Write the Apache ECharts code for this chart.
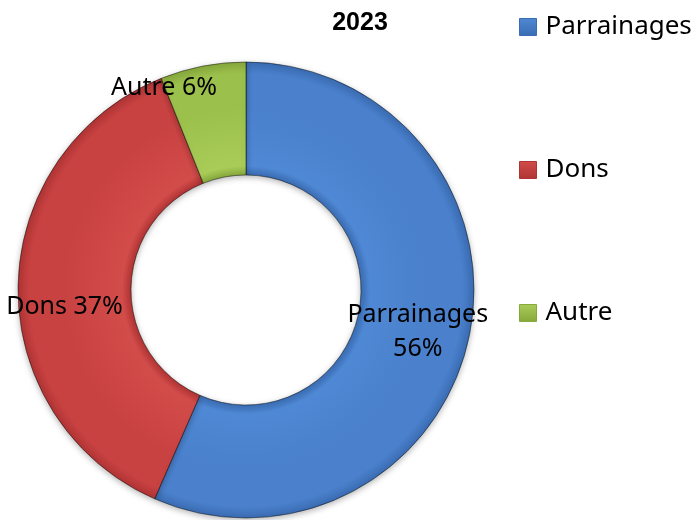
<!DOCTYPE html>
<html>
<head>
<meta charset="utf-8">
<script src="https://cdn.jsdelivr.net/npm/echarts@6/dist/echarts.min.js"></script>
<style>
  html, body { margin: 0; padding: 0; background: #fff; }
  #chart { width: 698px; height: 520px; }
</style>
</head>
<body>
<div id="chart"></div>
<script>
const categories = ['Parrainages', 'Dons', 'Autre']
const values = [56, 37, 6]
const colors = [
  ['#3a6cb2', '#4f88d4', '#4a80cc'],
  ['#b03434', '#d24c4a', '#c94242'],
  ['#86a83c', '#a9cc58', '#9cc04c'],
]

const cx = 246
const cy = 290
const outerR = 228
const innerR = 115

// bevel look: dark edges, lighter band near inner rim
const ringFill = (c) => ({
  type: 'radial', x: cx, y: cy, r: outerR, global: true,
  colorStops: [
    { offset: 0, color: c[0] },
    { offset: innerR / outerR, color: c[0] },
    { offset: innerR / outerR + 0.04, color: c[1] },
    { offset: 0.8, color: c[2] },
    { offset: 0.95, color: c[2] },
    { offset: 1, color: c[0] },
  ],
})

const iconFill = (c) => ({
  type: 'linear', x: 0, y: 0, x2: 0, y2: 1,
  colorStops: [{ offset: 0, color: c[1] }, { offset: 1, color: c[0] }],
})

const labelShift = [[1, 6], [-7, 20], [-49, -31]]

const myChart = echarts.init(document.getElementById('chart'))
myChart.setOption({
  title: {
    text: '2023',
    left: 355,
    top: 6,
    textAlign: 'center',
    textStyle: {
      fontFamily: '"Liberation Sans Narrow", "Liberation Sans", sans-serif',
      fontSize: 25,
      fontWeight: 'bold',
      color: '#000',
    },
  },
  legend: {
    orient: 'vertical',
    left: 514,
    top: 9,
    icon: 'rect',
    itemWidth: 17,
    itemHeight: 17,
    itemGap: 117,
    textStyle: {
      fontFamily: '"Noto Sans", sans-serif',
      fontSize: 26,
      color: '#000',
      padding: [0, 0, 0, 4],
    },
    data: categories.map((name, i) => ({
      name: name,
      itemStyle: { color: iconFill(colors[i]), borderColor: colors[i][0], borderWidth: 1 },
    })),
  },
  series: [{
    type: 'pie',
    center: [cx, cy],
    radius: [innerR, outerR],
    startAngle: 90,
    clockwise: true,
    avoidLabelOverlap: false,
    emphasis: { scale: false },
    itemStyle: {
      borderColor: 'rgba(0,0,0,0.25)',
      borderWidth: 1,
      shadowBlur: 6,
      shadowColor: 'rgba(0,0,0,0.3)',
      shadowOffsetY: 2,
    },
    label: {
      show: true,
      position: 'inside',
      fontFamily: '"Noto Sans", sans-serif',
      fontSize: 25,
      lineHeight: 34,
      color: '#000',
      formatter: (p) => p.dataIndex === 0 ? p.name + '\n' + p.value + '%' : p.name + ' ' + p.value + '%',
    },
    labelLayout: (p) => ({ dx: labelShift[p.dataIndex][0], dy: labelShift[p.dataIndex][1] }),
    data: categories.map((name, i) => ({
      name: name,
      value: values[i],
      itemStyle: { color: ringFill(colors[i]) },
    })),
  }],
})
</script>
</body>
</html>
